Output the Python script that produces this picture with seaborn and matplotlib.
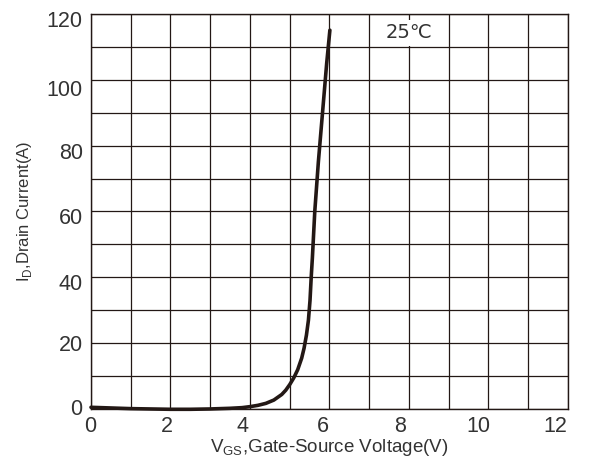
import numpy as np
import pandas as pd
import matplotlib
matplotlib.use("Agg")
import matplotlib.pyplot as plt
import matplotlib.transforms as mtransforms
import seaborn as sns

# Transfer characteristic at 25 °C
vgs = [0.0, 0.5, 1.0, 1.5, 2.0, 2.5, 3.0, 3.5, 3.8, 4.0, 4.2, 4.4, 4.6,
       4.8, 4.9, 5.0, 5.1, 5.2, 5.3, 5.36, 5.42, 5.47, 5.51, 5.54, 5.57,
       5.60, 5.63, 5.66, 5.69, 5.72, 5.755, 5.79, 5.825, 5.86, 5.895,
       5.93, 5.97, 6.01]
id_a = [0.6, 0.4, 0.2, 0.1, 0.0, 0.0, 0.1, 0.3, 0.5, 0.8, 1.2, 1.8, 2.8,
        4.5, 5.8, 7.5, 9.5, 12, 15.5, 18.5, 22.5, 27, 33, 40, 46,
        53, 60, 65, 70, 75, 80, 85, 90, 95, 100,
        105, 110, 115]

x_ticks = [0, 2, 4, 6, 8, 10, 12]
y_ticks = [0, 20, 40, 60, 80, 100, 120]
temp_label = "25℃"

ink = "#231815"
text_col = "#333333"

sns.set_theme(style="white")
plt.rcParams["font.family"] = ["Liberation Sans", "DejaVu Sans"]

fig = plt.figure(figsize=(5.97, 4.63), dpi=100)
ax = fig.add_axes([0.1524, 0.116, 0.7990, 0.8544])

df = pd.DataFrame({"VGS": vgs, "ID": id_a})
sns.lineplot(data=df, x="VGS", y="ID", sort=False, estimator=None,
             color=ink, linewidth=2.6, ax=ax, clip_on=False, zorder=5)

ax.set_xlim(0, 12)
ax.set_ylim(0, 120)
ax.set_xticks(x_ticks)
ax.set_yticks(y_ticks)
ax.set_xticks(np.arange(1, 12, 2), minor=True)
ax.set_yticks(np.arange(10, 120, 20), minor=True)
ax.set_xticklabels([str(t) for t in x_ticks])
ax.set_yticklabels([str(t) for t in y_ticks])

ax.grid(True, which="both", color=ink, linewidth=0.9)
ax.set_axisbelow(True)
ax.tick_params(axis="both", which="both", length=0)
ax.tick_params(axis="x", labelsize=15.5, pad=5, labelcolor=text_col)
ax.tick_params(axis="y", labelsize=15.5, pad=6, labelcolor=text_col)

# small nudges of the tick labels (pixels)
x_shift = [-1, -4, -7, -7, -9, -10, -13]
y_shift = [2, 0, -5, -5, -5, -8, -5]
for lbl, dx in zip(ax.get_xticklabels(), x_shift):
    lbl.set_transform(lbl.get_transform() +
                      mtransforms.ScaledTranslation(dx / 100, 0, fig.dpi_scale_trans))
for lbl, dy in zip(ax.get_yticklabels(), y_shift):
    lbl.set_transform(lbl.get_transform() +
                      mtransforms.ScaledTranslation(0, dy / 100, fig.dpi_scale_trans))

for sp in ax.spines.values():
    sp.set_color(ink)
    sp.set_linewidth(1.0)

ax.set_xlabel(r"V$_{\mathregular{GS}}$,Gate-Source Voltage(V)", fontsize=13.5,
              color=text_col, labelpad=0)
ax.set_ylabel(r"I$_{\mathregular{D}}$,Drain Current(A)", fontsize=12,
              color=text_col, labelpad=9)

ax.text(8.0, 114.2, temp_label, ha="center", va="center", fontsize=14,
        color=text_col, family=["DejaVu Sans", "Noto Sans CJK SC"],
        bbox=dict(facecolor="white", edgecolor="none", pad=2.5), zorder=6)

fig.savefig("out.png", dpi=100)
